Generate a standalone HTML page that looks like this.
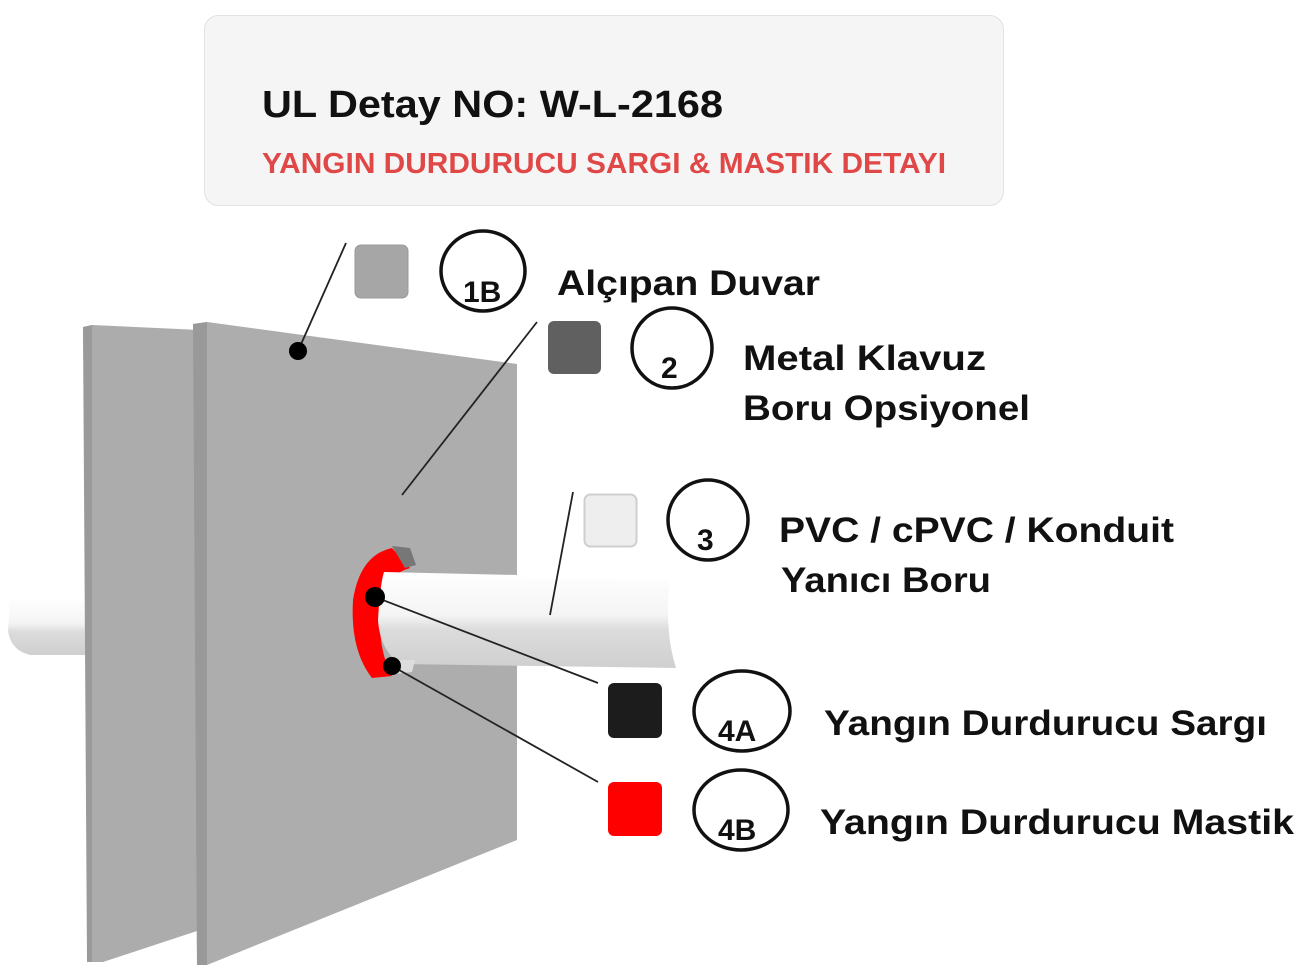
<!DOCTYPE html>
<html><head><meta charset="utf-8"><style>
html,body{margin:0;padding:0;background:#fff;width:1312px;height:969px;overflow:hidden}
svg{display:block}
text{font-family:"Liberation Sans",sans-serif;font-weight:bold}
</style></head><body>
<svg width="1312" height="969" viewBox="0 0 1312 969" xmlns="http://www.w3.org/2000/svg">
<defs>
<linearGradient id="pipe" x1="0" y1="0" x2="0" y2="1">
<stop offset="0" stop-color="#ffffff"/><stop offset="0.45" stop-color="#f4f4f4"/><stop offset="0.6" stop-color="#dcdcdc"/><stop offset="1" stop-color="#cfcfcf"/>
</linearGradient>
</defs>
<!-- title box -->
<rect x="204.5" y="15.5" width="799" height="190" rx="14" fill="#f5f5f5" stroke="#e2e2e2"/>
<text x="262" y="117" font-size="38" fill="#111" textLength="461" lengthAdjust="spacingAndGlyphs">UL Detay NO: W-L-2168</text>
<text x="262" y="173" font-size="29" fill="#e04747" textLength="684" lengthAdjust="spacingAndGlyphs">YANGIN DURDURUCU SARGI &amp; MASTIK DETAYI</text>

<!-- left pipe -->
<path d="M10,598 L90,597 L90,655 L30,655 Q10,650 8,630 Z" fill="url(#pipe)"/>
<!-- back panel -->
<polygon points="83,327 92,325 200,330 200,930 103,962 92,962" fill="#acacac"/>
<polygon points="83,327 92,325 92,962 87,962" fill="#9a9a9a"/>
<!-- front panel -->
<polygon points="193,324 207,322 517,364 517,840 207,965 197,965" fill="#adadad"/>
<polygon points="193,324 207,322 207,965 197,965" fill="#999"/>
<!-- hole and ring -->
<path d="M392,548 Q360,555 353,600 Q350,650 372,678 L392,676 Q378,650 380,610 Q384,575 410,568 Z" fill="#ff0000"/>
<path d="M392,546 L410,548 L416,565 L405,568 Z" fill="#777"/>
<!-- right pipe -->
<path d="M384,572 L517,575 L517,578 L670,580 Q664,630 676,668 L400,664 Q380,650 378,620 Q380,585 384,572 Z" fill="url(#pipe)"/>
<path d="M392,660 L415,660 L412,672 L394,674 Z" fill="#ddd"/>
<!-- leader lines -->
<g stroke="#222" stroke-width="1.8" fill="none">
<line x1="346" y1="243" x2="298" y2="351"/>
<line x1="537" y1="322" x2="402" y2="495"/>
<line x1="573" y1="492" x2="550" y2="615"/>
<line x1="375" y1="597" x2="598" y2="683"/>
<line x1="392" y1="666" x2="598" y2="782"/>
</g>
<circle cx="298" cy="351" r="9" fill="#000"/>
<circle cx="375" cy="597" r="10" fill="#000"/>
<circle cx="392" cy="666" r="9" fill="#000"/>

<!-- legend -->
<rect x="355" y="245" width="53" height="53" rx="6" fill="#a6a6a6" stroke="#999"/>
<ellipse cx="483" cy="271" rx="42" ry="40" fill="none" stroke="#111" stroke-width="3.5"/>
<text x="463" y="302" font-size="30" fill="#111">1B</text>
<text x="557" y="295" font-size="35" fill="#111" textLength="263" lengthAdjust="spacingAndGlyphs">Alçıpan Duvar</text>

<rect x="548" y="321" width="53" height="53" rx="6" fill="#606060"/>
<ellipse cx="672" cy="348" rx="40" ry="40" fill="none" stroke="#111" stroke-width="3.5"/>
<text x="661" y="378" font-size="30" fill="#111">2</text>
<text x="743" y="370" font-size="35" fill="#111" textLength="243" lengthAdjust="spacingAndGlyphs">Metal Klavuz</text>
<text x="743" y="420" font-size="35" fill="#111" textLength="287" lengthAdjust="spacingAndGlyphs">Boru Opsiyonel</text>

<rect x="584.5" y="494.5" width="52" height="52" rx="6" fill="#eeeeee" stroke="#cfcfcf" stroke-width="2"/>
<ellipse cx="708" cy="520" rx="40" ry="40" fill="none" stroke="#111" stroke-width="3.5"/>
<text x="697" y="550" font-size="30" fill="#111">3</text>
<text x="779" y="542" font-size="35" fill="#111" textLength="395" lengthAdjust="spacingAndGlyphs">PVC / cPVC / Konduit</text>
<text x="781" y="592" font-size="35" fill="#111" textLength="210" lengthAdjust="spacingAndGlyphs">Yanıcı Boru</text>

<rect x="608" y="683" width="54" height="55" rx="6" fill="#1c1c1c"/>
<ellipse cx="742" cy="711" rx="48" ry="40" fill="none" stroke="#111" stroke-width="3.5"/>
<text x="718" y="741" font-size="30" fill="#111">4A</text>
<text x="824" y="735" font-size="35" fill="#111" textLength="443" lengthAdjust="spacingAndGlyphs">Yangın Durdurucu Sargı</text>

<rect x="608" y="782" width="54" height="54" rx="6" fill="#ff0000"/>
<ellipse cx="741" cy="810" rx="47" ry="40" fill="none" stroke="#111" stroke-width="3.5"/>
<text x="718" y="840" font-size="30" fill="#111">4B</text>
<text x="820" y="834" font-size="35" fill="#111" textLength="474" lengthAdjust="spacingAndGlyphs">Yangın Durdurucu Mastik</text>
</svg>
</body></html>
